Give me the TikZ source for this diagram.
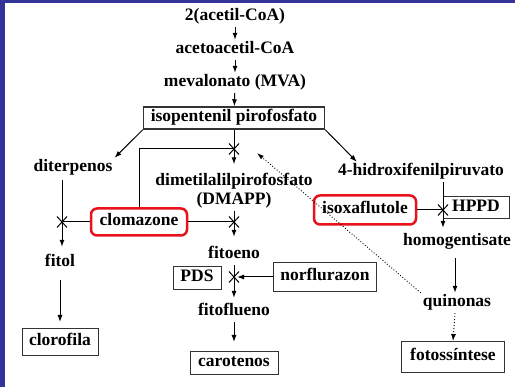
\documentclass[tikz,border=0pt]{standalone}
\usepackage{fontspec}
\setmainfont{Liberation Serif}
\newfontfamily\pathfont{Liberation Serif}
\usetikzlibrary{arrows.meta,calc}
\definecolor{frameblue}{RGB}{51,51,153}
\definecolor{herbred}{RGB}{232,18,28}
\begin{document}
\begin{tikzpicture}[x=1pt,y=-1pt,
  every node/.style={font=\pathfont\fontsize{17.5}{19}\selectfont\bfseries, inner sep=2pt, text height=12pt, text depth=4pt},
  bx/.style={draw=black!80, line width=1pt},
  herb/.style={draw=herbred, line width=2.5pt, rounded corners=6pt},
  flow/.style={-{Latex[length=7pt,width=5pt]}, line width=1pt},
  inhib/.style={line width=1pt},
  feed/.style={dotted, line width=0.9pt},
  xmark/.pic={\draw[line width=1pt] (-5,-5.5) -- (5,5.5) (-5,5.5) -- (5,-5.5);}]
		% frame
		\useasboundingbox (0,0) rectangle (515,387);
		\fill[white] (0,0) rectangle (515,387);
		\fill[frameblue] (0,0) rectangle (515,3);
		\fill[frameblue] (0,0) rectangle (5,387);
		
		% mevalonate route
		\node (acoa) at (235,17) {2(acetil-CoA)};
		\node (aacoa) at (235,50) {acetoacetil-CoA};
		\node (mva) at (235,83) {mevalonato (MVA)};
		\node[bx, line width=1.5pt, minimum width=181pt, minimum height=22pt] (ipp) at (234,118) {isopentenil pirofosfato};
		\node (diterp) at (73,168) {diterpenos};
		\node (hidrox) at (421,172) {4-hidroxifenilpiruvato};
		\node[align=center, text height=, text depth=] (dmapp) at (234,191) {dimetilalilpirofosfato\\(DMAPP)};
		\node (fitol) at (60,263) {fitol};
		\node[bx, minimum width=76pt, minimum height=27pt] (cloro) at (60,342) {clorofila};
		\node (fitoeno) at (234,255) {fitoeno};
		\node[bx, minimum width=48pt, minimum height=23pt] (pds) at (197,278) {PDS};
		\node[bx, minimum width=103pt, minimum height=29pt] (norf) at (325,277) {norflurazon};
		\node (fitofl) at (234,312) {fitoflueno};
		\node[bx, minimum width=88pt, minimum height=23pt] (carot) at (234,363) {carotenos};
		\node[bx, minimum width=66pt, minimum height=22pt] (hppd) at (476,208) {HPPD};
		\node (homog) at (457,242) {homogentisate};
		\node (quin) at (457,303) {quinonas};
		\node[bx, minimum width=103pt, minimum height=31pt] (fotos) at (453,357) {fotossíntese};
		
		% herbicides
		\node[herb, minimum width=96pt, minimum height=27pt] (clom) at (139,222) {clomazone};
		\node[herb, minimum width=102pt, minimum height=29pt] (isox) at (365,210) {isoxaflutole};
		
		% blocked steps
		\coordinate (blk1) at (234,149);
		\coordinate (blk2) at (234,222);
		\coordinate (blk3) at (62,222);
		\coordinate (blk4) at (234,277);
		\coordinate (blk5) at (443,210);
		\coordinate (fb) at (257,153);
		
		\draw[flow] (acoa) -- (aacoa);
		\draw[flow] (aacoa) -- (mva);
		\draw[flow] (mva) -- (ipp);
		\draw[flow] (ipp.south west) -- (diterp.north east);
		\draw[flow] (ipp.south east) -- ($(hidrox.north west)+(21,0)$);
		\draw[flow, shorten >=7pt] (ipp) -- (dmapp);
		\draw[flow, shorten >=8pt] (dmapp) -- (fitoeno);
		\draw[flow, shorten >=4pt] (fitoeno) -- (fitofl);
		\draw[flow, shorten >=9pt] (fitofl) -- (carot);
		\draw[flow, shorten <=2pt, shorten >=6pt] (blk3 |- diterp.south) -- (blk3 |- fitol.north);
		\draw[flow, shorten <=7pt, shorten >=6pt] (fitol) -- (cloro);
		\draw[flow, shorten >=4pt] (blk5 |- hidrox.south) -- (blk5 |- homog.north);
		\draw[flow, shorten <=6pt] ($(homog.south)+(-2,0)$) -- ($(quin.north)+(-2,0)$);
		\draw[flow, feed] ($(quin.south)+(-2,0)$) -- ($(fotos.north)+(0,0)$);
		\draw[feed, -{Latex[length=7pt,width=4.5pt]}] (quin.north west) -- (fb);
		
		\draw[inhib] (clom.north) |- (blk1);
		\draw[inhib] (clom.east) -- (blk2);
		\draw[inhib] (clom.west) -- (blk3);
		\draw[flow, shorten >=3pt] (norf.west) -- (blk4);
		\draw[inhib] (isox.east) -- (blk5);
		\foreach \b in {blk1,blk2,blk3,blk4,blk5}
			\pic at (\b) {xmark};
	\end{tikzpicture}
\end{document}
